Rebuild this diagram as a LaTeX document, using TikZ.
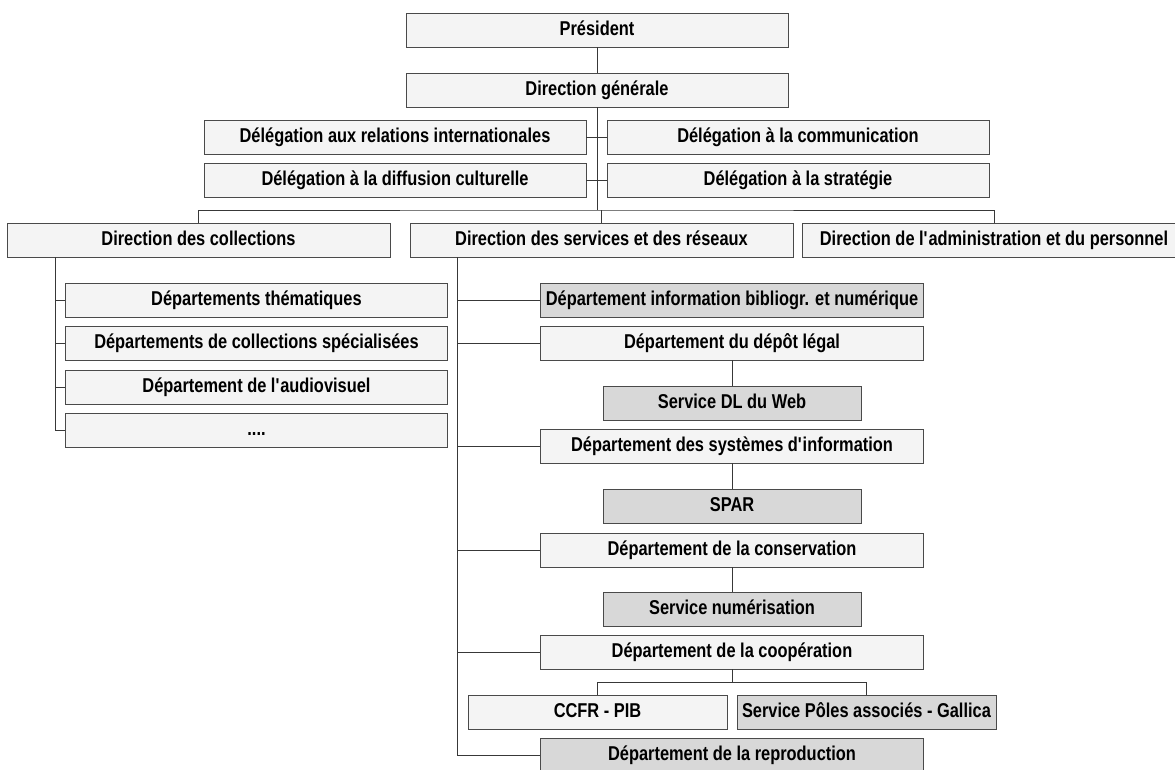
\documentclass[tikz,border=0pt]{standalone}
\usepackage{fontspec}
\setmainfont{Liberation Sans}[FakeStretch=0.82]
\usepackage{tikz}
\usetikzlibrary{positioning,shadows}
\tikzset{every shadow/.style={fill=gray!55,shadow xshift=0.8pt,shadow yshift=-0.8pt}}
\definecolor{boxfill}{HTML}{F4F4F4}
\definecolor{grayfill}{HTML}{D8D8D8}
\definecolor{boxline}{HTML}{4A4A4A}
\newcommand{\Unit}[1]{\textbf{#1}}
\newcommand{\q}{\textquotesingle}

\begin{document}
\begin{tikzpicture}[x=1pt,y=-1pt,
  orgbox/.style={rectangle,draw=boxline,fill=boxfill,line width=0.8pt,drop shadow,
    minimum width=382pt,minimum height=34pt,inner sep=0pt,text height=14pt,text depth=4pt,
    font=\fontsize{20}{23}\selectfont},
  svcbox/.style={orgbox,fill=grayfill},
  smallbox/.style={minimum width=258pt},
  link/.style={draw=black!78,line width=1pt}]
\useasboundingbox (0,0) rectangle (1175,769);
% \draw[help lines,step=50] (0,0) grid (1175,769);
\node (pres) [orgbox] at (597,30) {\Unit{Président}};
\node (dg) [orgbox] at (597,90) {\Unit{Direction générale}};
\node (dri) [orgbox] at (395,137.5) {\Unit{Délégation aux relations internationales}};
\node (dcom) [orgbox] at (798,137.5) {\Unit{Délégation à la communication}};
\node (ddc) [orgbox] at (395,180) {\Unit{Délégation à la diffusion culturelle}};
\node (dstr) [orgbox] at (798,180) {\Unit{Délégation à la stratégie}};
\node (dcoll) [orgbox,minimum width=383pt] at (198.5,240) {\Unit{Direction des collections}};
\node (dsr) [orgbox,minimum width=383pt] at (601.5,240) {\Unit{Direction des services et des réseaux}};
\node (dap) [orgbox,minimum width=383pt] at (994,240) {\Unit{Direction de l\q administration et du personnel}};
%
\node (dthem) [orgbox] at (256.5,300) {\Unit{Départements thématiques}};
\node (dspec) [orgbox] at (256.5,343) {\Unit{Départements de collections spécialisées}};
\node (daudio) [orgbox] at (256.5,387) {\Unit{Département de l\q audiovisuel}};
\node (ddots) [orgbox] at (256.5,430) {\Unit{....}};
%
\node (dinfo) [svcbox,minimum width=383pt] at (732,300) {\Unit{Département information bibliogr. et numérique}};
\node (ddl) [orgbox,minimum width=383pt] at (732,343) {\Unit{Département du dépôt légal}};
\node (sweb) [svcbox,smallbox] at (732,403.5) {\Unit{Service DL du Web}};
\node (dsi) [orgbox,minimum width=383pt] at (732,446) {\Unit{Département des systèmes d\q information}};
\node (spar) [svcbox,smallbox] at (732,506) {\Unit{SPAR}};
\node (dcons) [orgbox,minimum width=383pt] at (732,550) {\Unit{Département de la conservation}};
\node (snum) [svcbox,smallbox] at (732,609) {\Unit{Service numérisation}};
\node (dcoop) [orgbox,minimum width=383pt] at (732,652) {\Unit{Département de la coopération}};
\node (ccfr) [orgbox,minimum width=259pt] at (597.5,712) {\Unit{CCFR - PIB}};
\node (spole) [svcbox,minimum width=259pt] at (866.5,712) {\Unit{Service Pôles associés - Gallica}};
\node (drep) [svcbox,minimum width=383pt] at (732,755) {\Unit{Département de la reproduction}};
%
\coordinate (topbus) at (597,210);
\coordinate (lspine) at (55,257);
\coordinate (rspine) at (457,257);
\coordinate (coopbus) at (732,682);
%
\path[link] (pres) edge (dg);
\path[link] (dg.south) edge (topbus);
\path[link] (dri.east) edge (dcom.west);
\path[link] (ddc.east) edge (dstr.west);
\draw[link] (dcoll.north) |- (topbus) -| (dap.north);
\draw[link] (dsr.north) -- (dsr.north |- topbus);
%
\draw[link] (lspine) |- (ddots.west);
\draw[link] (lspine |- dthem.west) -- (dthem.west);
\draw[link] (lspine |- dspec.west) -- (dspec.west);
\draw[link] (lspine |- daudio.west) -- (daudio.west);
%
\draw[link] (rspine) |- (drep.west);
\draw[link] (rspine |- dinfo.west) -- (dinfo.west);
\draw[link] (rspine |- ddl.west) -- (ddl.west);
\draw[link] (rspine |- dsi.west) -- (dsi.west);
\draw[link] (rspine |- dcons.west) -- (dcons.west);
\draw[link] (rspine |- dcoop.west) -- (dcoop.west);
\path[link] (ddl) edge (sweb);
\path[link] (dsi) edge (spar);
\path[link] (dcons) edge (snum);
\path[link] (dcoop.south) edge (coopbus);
\draw[link] (ccfr.north) |- (coopbus) -| (spole.north);
\end{tikzpicture}
\end{document}
